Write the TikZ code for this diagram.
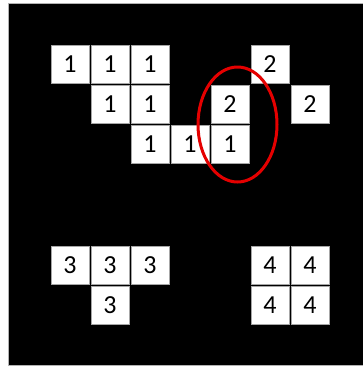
\documentclass[tikz,border=0pt]{standalone}
\usepackage{fontspec}
\setmainfont{Carlito}
\begin{document}
\begin{tikzpicture}[x=1pt,y=-1pt,
  cell/.style={draw=gray!70,line width=0.8pt,fill=white,minimum size=38pt,inner sep=0pt,
    font=\fontsize{26}{26}\selectfont,text=black},
  ring/.style={draw=red!90!black,line width=3pt}]
\useasboundingbox (0,0) rectangle (363,368);
\fill[white] (0,0) rectangle (363,368);
\draw[fill=black,draw=gray!60,line width=0.8pt] (8,3) rectangle (364,365);
% row 0
\node[cell] (a1) at (70,64) {1};
\node[cell] (a2) at (110,64) {1};
\node[cell] (a3) at (150,64) {1};
\node[cell] (b1) at (270,64) {2};
% row 1
\node[cell] (a4) at (110,104) {1};
\node[cell] (a5) at (150,104) {1};
\node[cell] (b2) at (230,104) {2};
\node[cell] (b3) at (310,104) {2};
% row 2
\node[cell] (a6) at (150,144) {1};
\node[cell] (a7) at (190,144) {1};
\node[cell] (a8) at (230,144) {1};
% group 3
\node[cell] (c1) at (70,265) {3};
\node[cell] (c2) at (110,265) {3};
\node[cell] (c3) at (150,265) {3};
\node[cell] (c4) at (110,305) {3};
% group 4
\node[cell] (d1) at (270,265) {4};
\node[cell] (d2) at (310,265) {4};
\node[cell] (d3) at (270,305) {4};
\node[cell] (d4) at (310,305) {4};
% ring
\draw[ring] (237.5,124.5) ellipse [x radius=39.5, y radius=57.5];
\end{tikzpicture}
\end{document}
